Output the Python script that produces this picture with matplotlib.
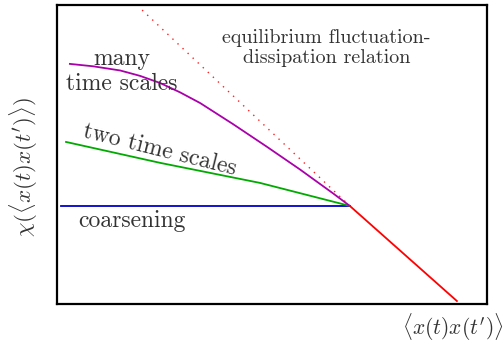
import matplotlib

matplotlib.use("Agg")

import matplotlib.pyplot as plt

plt.rcParams['font.family'] = 'serif'
plt.rcParams['font.serif'] = ['cmr10', 'DejaVu Serif']
plt.rcParams['mathtext.fontset'] = 'cm'
plt.rcParams['axes.unicode_minus'] = False

# curves (axes units 0..1)
many_x = [0.030, 0.084, 0.147, 0.193, 0.240, 0.286, 0.333, 0.409, 0.488, 0.565, 0.642, 0.681]
many_y = [0.803, 0.795, 0.781, 0.763, 0.739, 0.708, 0.672, 0.602, 0.526, 0.450, 0.370, 0.328]

two_x = [0.021, 0.240, 0.472, 0.681]
two_y = [0.542, 0.472, 0.405, 0.328]

coarse_x = [0.009, 0.681]
coarse_y = [0.328, 0.328]

fdt_x = [0.681, 0.930]
fdt_y = [0.328, 0.010]

fdt_ext_x = [0.198, 0.681]
fdt_ext_y = [0.983, 0.328]

txt_col = "#333333"

fig = plt.figure(figsize=(5.04, 3.49), dpi=100)
ax = fig.add_axes([57/504, 1 - 304/349, 430/504, 299/349])

ax.plot(fdt_ext_x, fdt_ext_y, color="#ff2020", lw=1.0, dashes=(1, 4))
ax.plot(coarse_x, coarse_y, color="#0000cc", lw=1.3)
ax.plot(two_x, two_y, color="#00aa00", lw=1.3)
ax.plot(many_x, many_y, color="#aa00aa", lw=1.3)
ax.plot(fdt_x, fdt_y, color="#ff0000", lw=1.3)

ax.set_xlim(0, 1)
ax.set_ylim(0, 1)
ax.set_xticks([])
ax.set_yticks([])
for sp in ax.spines.values():
    sp.set_linewidth(1.6)

ax.text(0.151, 0.799, "many", fontsize=17, ha="center", va="baseline", color=txt_col)
ax.text(0.151, 0.716, "time scales", fontsize=17, ha="center", va="baseline", color=txt_col)
ax.text(0.058, 0.559, "two time scales", fontsize=17, ha="left", va="baseline",
        rotation=-14, rotation_mode="anchor", color=txt_col)
ax.text(0.049, 0.258, "coarsening", fontsize=17, ha="left", va="baseline", color=txt_col)
ax.text(0.626, 0.873, "equilibrium fluctuation-", fontsize=14.5, ha="center",
        va="baseline", color=txt_col)
ax.text(0.628, 0.806, "dissipation relation", fontsize=14.5, ha="center",
        va="baseline", color=txt_col)

fig.text(402/504, 1 - 335/349, r"$\langle x(t)x(t')\rangle$", fontsize=15.5,
         ha="left", va="baseline", color=txt_col)
fig.text(24/504, 1 - 167/349, r"$\chi(\langle x(t)x(t')\rangle)$", fontsize=16.5,
         ha="center", va="center", rotation=90, color=txt_col)

plt.savefig("out.png", dpi=100)
